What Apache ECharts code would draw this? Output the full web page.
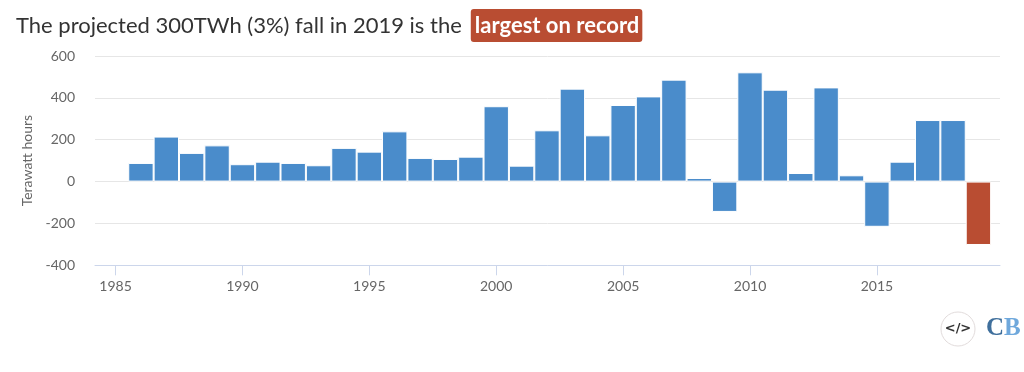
<!DOCTYPE html>
<html>
<head>
<meta charset="utf-8">
<title>Coal generation change</title>
<script src="https://cdn.jsdelivr.net/npm/echarts@6/dist/echarts.min.js"></script>
<style>
html, body { margin: 0; padding: 0; background: #fff; }
#chart { width: 1024px; height: 372px; }
</style>
</head>
<body>
<div id="chart"></div>
<script>
var years = [1986, 1987, 1988, 1989, 1990, 1991, 1992, 1993, 1994, 1995, 1996, 1997, 1998, 1999, 2000, 2001, 2002,
	2003, 2004, 2005, 2006, 2007, 2008, 2009, 2010, 2011, 2012, 2013, 2014, 2015, 2016, 2017, 2018, 2019];
var changes = [89, 215, 137, 173, 83, 95, 89, 78, 161, 143, 240, 113, 108, 119, 360, 76, 245,
	444, 221, 366, 407, 487, 17, -145, 522, 439, 41, 450, 30, -216, 95, 294, 294, -303];
var xTicks = [1985, 1990, 1995, 2000, 2005, 2010, 2015];
var yTicks = [-400, -200, 0, 200, 400, 600];
var highlightYear = 2019;

var font = 'Lato';
var blue = '#4a8ccb';
var red = '#b94d32';

var chart = echarts.init(document.getElementById('chart'));

var barData = [];
for (var i = 0; i < years.length; i++) {
	barData.push({
		value: [years[i], changes[i]],
		itemStyle: { color: years[i] == highlightYear ? red : blue }
	});
}

var option = {
	animation: false,
	backgroundColor: '#fff',
	title: {
		left: 11,
		top: 4,
		text: 'The projected 300TWh (3%) fall in 2019 is the{sp|}{hl|largest on record}',
		textStyle: {
			fontFamily: font,
			fontSize: 22,
			fontWeight: 'normal',
			color: '#333',
			rich: {
				sp: { width: 9 },
				hl: {
					backgroundColor: red,
					borderRadius: 3,
					padding: [6, 3, 5, 4],
					color: '#fff',
					fontFamily: font,
					fontSize: 22,
					fontWeight: 'bold'
				}
			}
		}
	},
	grid: { left: 95, width: 905, top: 56, height: 209.3 },
	xAxis: {
		type: 'value',
		min: 1984.19,
		max: 2019.85,
		splitLine: { show: false },
		axisLine: { onZero: false, lineStyle: { color: '#ccd6eb' } },
		axisTick: { length: 10, customValues: xTicks, lineStyle: { color: '#ccd6eb' } },
		axisLabel: {
			customValues: xTicks,
			margin: 14,
			fontFamily: font,
			fontSize: 14,
			color: '#666',
			formatter: function (v) { return String(v); }
		}
	},
	yAxis: {
		type: 'value',
		min: yTicks[0],
		max: yTicks[yTicks.length - 1],
		interval: 200,
		name: 'Terawatt hours',
		nameLocation: 'middle',
		nameGap: 60,
		nameTextStyle: { fontFamily: font, fontSize: 14, color: '#666' },
		axisLine: { show: false },
		axisTick: { show: false },
		axisLabel: { margin: 20, fontFamily: font, fontSize: 14, color: '#666' },
		splitLine: { lineStyle: { color: '#e6e6e6' } }
	},
	graphic: [
		{
			type: 'circle',
			shape: { cx: 958, cy: 329, r: 17 },
			style: { fill: '#fff', stroke: '#e2dcdc', lineWidth: 1 }
		},
		{
			type: 'text',
			x: 958,
			y: 329,
			style: { text: '</>', fill: '#333', fontFamily: 'DejaVu Sans', fontWeight: 'bold', fontSize: 13, align: 'center', verticalAlign: 'middle' }
		},
		{
			type: 'text',
			x: 986,
			y: 329,
			style: {
				text: '{c|C}{b|B}',
				verticalAlign: 'middle',
				rich: {
					c: { fill: '#3f6f9c', fontFamily: 'Liberation Sans Narrow', fontWeight: 'bold', fontSize: 25 },
					b: { fill: '#6fa8dc', fontFamily: 'Liberation Sans Narrow', fontWeight: 'bold', fontSize: 25 }
				}
			}
		}
	],
	series: [
		{
			type: 'bar',
			data: barData,
			barWidth: 25.4,
			itemStyle: { borderColor: '#fff', borderWidth: 1 }
		}
	]
};
chart.setOption(option);
</script>
</body>
</html>
